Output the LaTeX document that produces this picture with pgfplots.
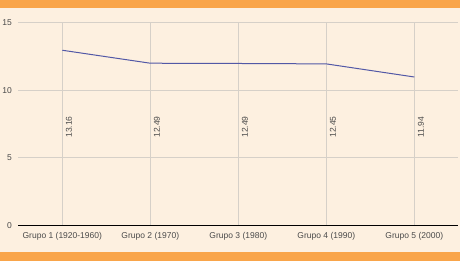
\documentclass[border=0pt]{standalone}
\usepackage{fontspec}
\setmainfont{Liberation Sans}
\usepackage{pgfplots}
\pgfplotsset{compat=1.18}
\definecolor{cream}{HTML}{FDF0E0}
\definecolor{orangeband}{HTML}{F9A54A}
\definecolor{lineblue}{HTML}{5258A6}
\definecolor{gridgray}{HTML}{D6D0C8}
\definecolor{txtgray}{HTML}{4A4A4A}
\begin{document}
\begin{tikzpicture}[x=1pt,y=1pt]
\useasboundingbox (0,0) rectangle (460,261);
\fill[cream] (0,0) rectangle (460,261);
\fill[orangeband] (0,253) rectangle (460,261);
\fill[orangeband] (0,0) rectangle (460,9);
\begin{axis}[
  at={(18.3pt,35.7pt)}, anchor=south west,
  scale only axis, width=440pt, height=202.6pt,
  xmin=-0.5, xmax=4.5, ymin=0, ymax=15,
  ytick={0,5,10,15},
  xtick={0,1,2,3,4},
  xticklabels={Grupo 1 (1920-1960),Grupo 2 (1970),Grupo 3 (1980),Grupo 4 (1990),Grupo 5 (2000)},
  axis line style={draw=none},
  major tick style={draw=none},
  grid=major,
  major grid style={gridgray, line width=0.9pt},
  ticklabel style={font=\fontsize{8.5}{10}\selectfont, text=txtgray},
  yticklabel style={xshift=-3pt},
  xticklabel style={yshift=-3.5pt},
  /pgf/number format/assume math mode=true,
  clip=false,
]
\draw[black, line width=1.3pt] (axis cs:-0.5,0) -- (axis cs:4.5,0);
\addplot[lineblue, line width=1pt, mark=none] coordinates {
  (0,12.96) (1,12.0) (2,11.98) (3,11.95) (4,10.98)
};
\foreach \xx/\lab in {0/13.16,1/12.49,2/12.49,3/12.45,4/11.94}{
  \edef\tmp{\noexpand\node[rotate=90, anchor=north, xshift=1pt, font=\noexpand\fontsize{8.5}{10}\noexpand\selectfont, text=txtgray] at (axis cs:\xx,7.2) {\lab};}
  \tmp
}
\end{axis}
\end{tikzpicture}
\end{document}
